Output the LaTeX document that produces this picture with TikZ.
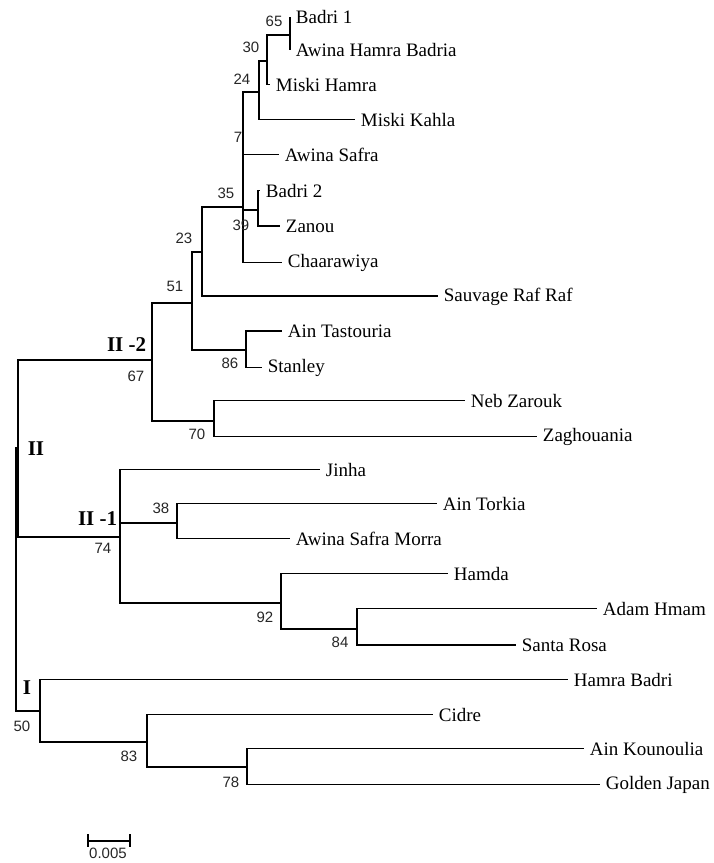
\documentclass[tikz,border=0pt]{standalone}
\usepackage{fontspec}
\setmainfont{Liberation Serif}
\newfontfamily\bootfont{Liberation Sans}
\usetikzlibrary{positioning}
\tikzset{
  leaf/.style={anchor=base west, inner xsep=5pt, inner ysep=0pt, yshift=-4pt, font=\fontsize{19}{20}\selectfont},
  boot/.style={inner sep=0pt, text=black!85, font=\bootfont\fontsize{15}{16}\selectfont},
  clade/.style={inner sep=0pt, font=\bfseries\fontsize{21}{23}\selectfont},
  branch/.style={line width=1.8pt}
}

\begin{document}
\begin{tikzpicture}[x=1pt, y=-1pt, branch]
\useasboundingbox (0,0) rectangle (714,863);
\node[leaf] (l1) at (290,19) {Badri 1};
\node[leaf] (l2) at (290,52) {Awina Hamra Badria};
\node[leaf] (l3) at (270,87) {Miski Hamra};
\node[leaf] (l4) at (355,122) {Miski Kahla};
\node[leaf] (l5) at (279,157) {Awina Safra};
\node[leaf] (l6) at (260,193) {Badri 2};
\node[leaf] (l7) at (280,228) {Zanou};
\node[leaf] (l8) at (282,263) {Chaarawiya};
\node[leaf] (l9) at (438,297) {Sauvage Raf Raf};
\node[leaf] (l10) at (282,333) {Ain Tastouria};
\node[leaf] (l11) at (262,368) {Stanley};
\node[leaf] (l12) at (465,403) {Neb Zarouk};
\node[leaf] (l13) at (537,437) {Zaghouania};
\node[leaf] (l14) at (320,472) {Jinha};
\node[leaf] (l15) at (437,506) {Ain Torkia};
\node[leaf] (l16) at (290,541) {Awina Safra Morra};
\node[leaf] (l17) at (448,576) {Hamda};
\node[leaf] (l18) at (597,611) {Adam Hmam};
\node[leaf] (l19) at (516,647) {Santa Rosa};
\node[leaf] (l20) at (568,682) {Hamra Badri};
\node[leaf] (l21) at (433,717) {Cidre};
\node[leaf] (l22) at (584,751) {Ain Kounoulia};
\node[leaf] (l23) at (600,785) {Golden Japan};
\coordinate (n65) at (290,35);
\coordinate (n30) at (267,61);
\coordinate (n24) at (259,92);
\coordinate (n7) at (243,124);
\coordinate (n39) at (258,210);
\coordinate (n35) at (243,207);
\coordinate (n23) at (202,252);
\coordinate (n86) at (246,350);
\coordinate (n51) at (192,303);
\coordinate (n70) at (214,421);
\coordinate (n67) at (152,360);
\coordinate (n38) at (177,523);
\coordinate (n84) at (357,629);
\coordinate (n92) at (281,603);
\coordinate (n74) at (120,537);
\coordinate (nII) at (17.6,448);
\coordinate (n78) at (247,767);
\coordinate (n83) at (147,742);
\coordinate (n50) at (40,711);
\coordinate (root) at (16.2,580);
\draw (n65) |- (l1.west) (n65) |- (l2.west);
\draw (n30) |- (n65) (n30) |- (l3.west);
\draw (n24) |- (n30) (n24) |- (l4.west);
\draw (n7) |- (n24) (n7) |- (l5.west);
\draw (n39) |- (l6.west) (n39) |- (l7.west);
\draw (n35) |- (n7) (n35) |- (n39) (n35) |- (l8.west);
\draw (n23) |- (n35) (n23) |- (l9.west);
\draw (n86) |- (l10.west) (n86) |- (l11.west);
\draw (n51) |- (n23) (n51) |- (n86);
\draw (n70) |- (l12.west) (n70) |- (l13.west);
\draw (n67) |- (n51) (n67) |- (n70);
\draw (n38) |- (l15.west) (n38) |- (l16.west);
\draw (n84) |- (l18.west) (n84) |- (l19.west);
\draw (n92) |- (l17.west) (n92) |- (n84);
\draw (n74) |- (l14.west) (n74) |- (n38) (n74) |- (n92);
\draw (nII) |- (n67) (nII) |- (n74);
\draw (n78) |- (l22.west) (n78) |- (l23.west);
\draw (n83) |- (l21.west) (n83) |- (n78);
\draw (n50) |- (l20.west) (n50) |- (n83);
\draw (root) |- (nII) (root) |- (n50);
\node[boot] (b65) at (274,21) {65};
\node[boot] (b30) at (251,47) {30};
\node[boot] (b24) at (242,79) {24};
\node[boot] (b7) at (238,137) {7};
\node[boot] (b35) at (226,193) {35};
\node[boot] (b39) at (241,225) {39};
\node[boot] (b23) at (184,238) {23};
\node[boot] (b51) at (175,286) {51};
\node[boot] (b86) at (230,363) {86};
\node[boot] (b67) at (136,376) {67};
\node[boot] (b70) at (197,434) {70};
\node[boot] (b74) at (103,548) {74};
\node[boot] (b38) at (161,508) {38};
\node[boot] (b92) at (265,617) {92};
\node[boot] (b84) at (340,642) {84};
\node[boot] (b50) at (22,726) {50};
\node[boot] (b83) at (129,756) {83};
\node[boot] (b78) at (231,782) {78};
\node[clade, anchor=east] (c22) at (147,345) {II -2};
\node[clade] (c2) at (36,449) {II};
\node[clade, anchor=east] (c21) at (118,519) {II -1};
\node[clade] (c1) at (27,688) {I};
\coordinate (s1) at (88,841);
\coordinate (s2) at (130,841);
\draw (s1) -- (s2);
\draw (s1) ++(0,-7) -- ++(0,13);
\draw (s2) ++(0,-7) -- ++(0,13);
\node[boot] (scale) at (108,853) {0.005};
\end{tikzpicture}
\end{document}
